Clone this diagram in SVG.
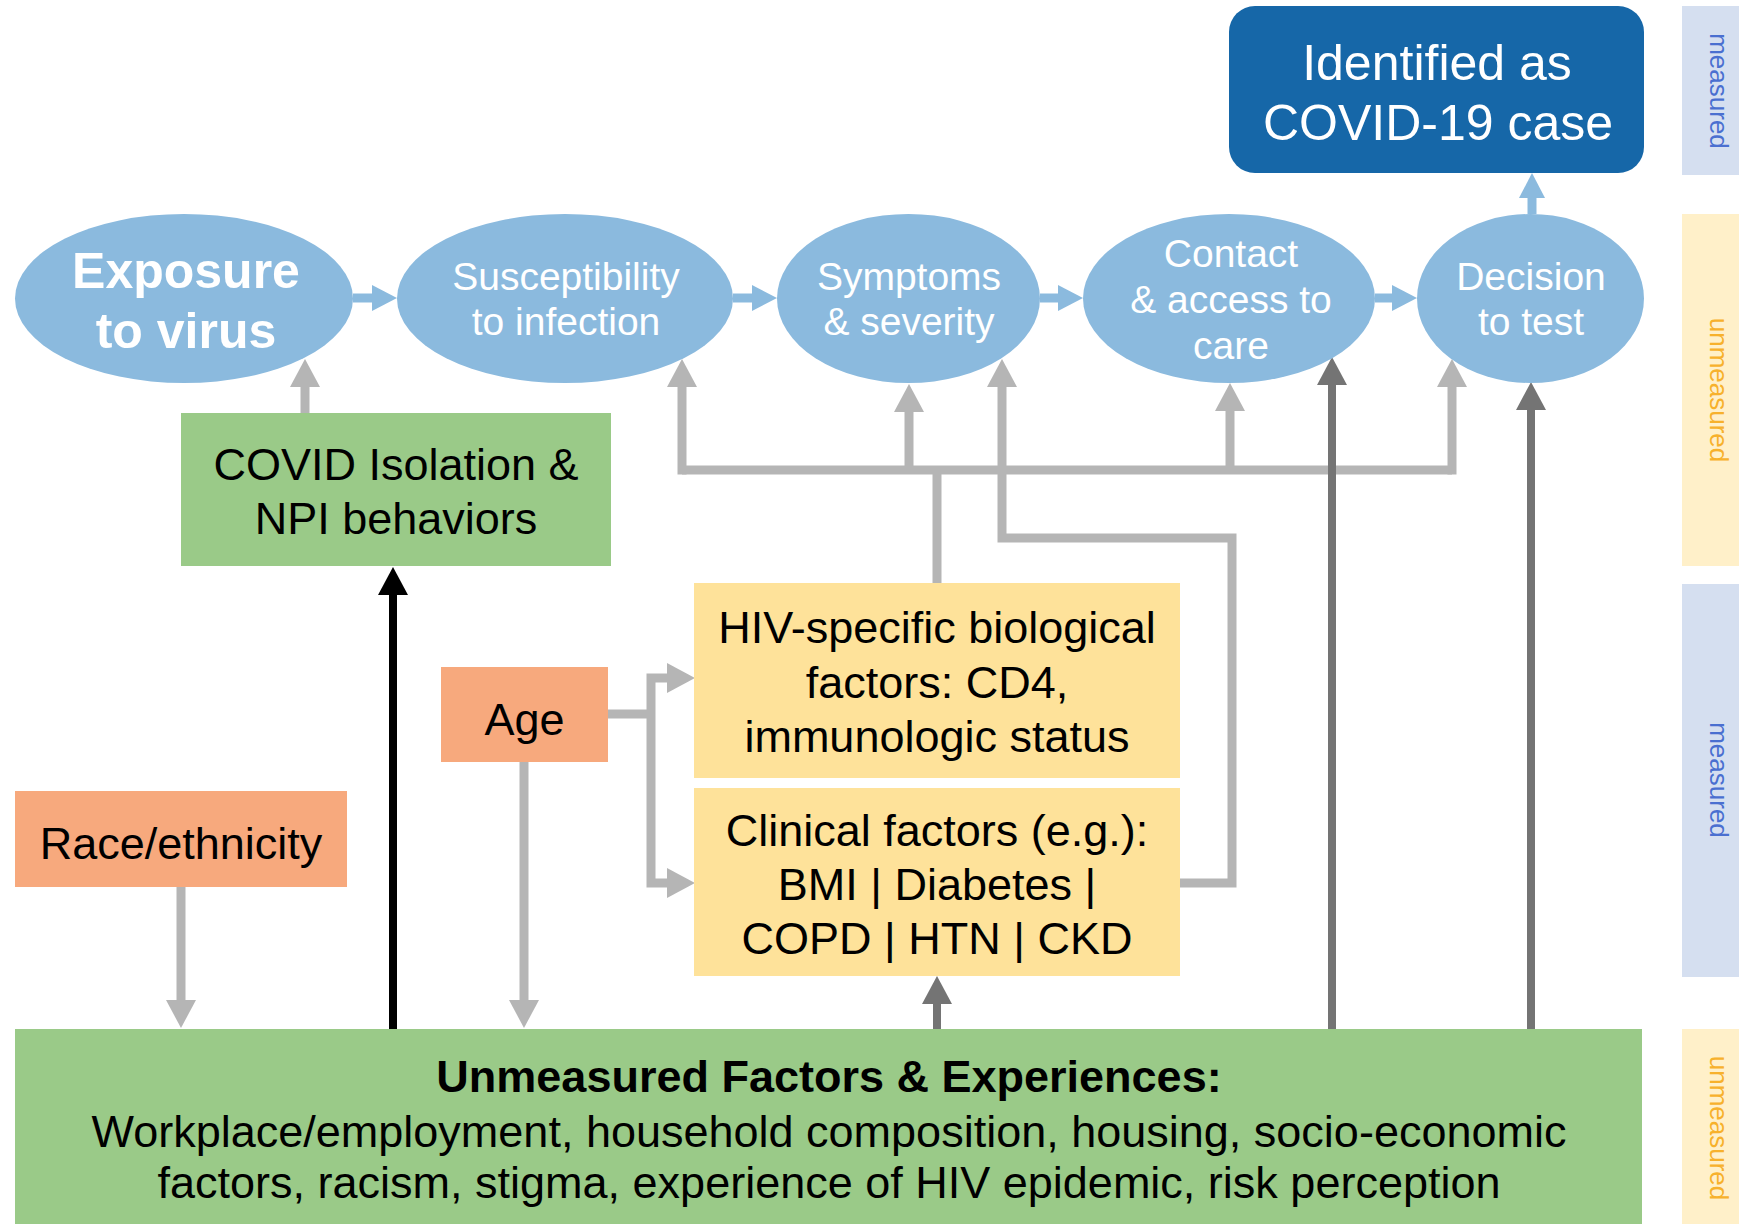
<svg xmlns="http://www.w3.org/2000/svg" width="1739" height="1224" viewBox="0 0 1739 1224">
  <style>
    text { font-family: "Liberation Sans", Arial, sans-serif; text-anchor: middle; }
    .dark { fill: #000; font-size: 45px; }
    .bold { font-weight: bold; }
    .stage { fill: #8bbade; }
    .stage-txt { fill: #fff; font-size: 39px; }
    .stage-big { fill: #fff; font-size: 50px; font-weight: bold; }
    .green { fill: #9aca88; }
    .salmon { fill: #f7a97d; }
    .yellow { fill: #fee29a; }
    .side-m { fill: #d5dff0; }
    .side-u { fill: #fff0c9; }
    .side-m-txt { fill: #4a6fd0; font-size: 26px; }
    .side-u-txt { fill: #f7b12c; font-size: 26px; }
    .c-blue { stroke: #8bbade; stroke-width: 9; fill: none; }
    .c-gray { stroke: #b5b5b5; stroke-width: 9; fill: none; }
    .c-dark { stroke: #747474; stroke-width: 8; fill: none; }
    .c-black { stroke: #000; stroke-width: 8; fill: none; }
  </style>
  <defs>
    <marker id="ah-blue" markerUnits="userSpaceOnUse" markerWidth="26" markerHeight="26" refX="0" refY="13" orient="auto">
      <path d="M0,0 L25,13 L0,26 z" fill="#8bbade"/>
    </marker>
    <marker id="ah-gray" markerUnits="userSpaceOnUse" markerWidth="28" markerHeight="30" refX="0" refY="15" orient="auto">
      <path d="M0,0 L28,15 L0,30 z" fill="#b5b5b5"/>
    </marker>
    <marker id="ah-dark" markerUnits="userSpaceOnUse" markerWidth="28" markerHeight="30" refX="0" refY="15" orient="auto">
      <path d="M0,0 L28,15 L0,30 z" fill="#747474"/>
    </marker>
    <marker id="ah-black" markerUnits="userSpaceOnUse" markerWidth="28" markerHeight="30" refX="0" refY="15" orient="auto">
      <path d="M0,0 L28,15 L0,30 z" fill="#000"/>
    </marker>
  </defs>

  <rect width="1739" height="1224" fill="#fff"/>

  <!-- side legend bars -->
  <g id="legend">
    <rect class="side-m" x="1682" y="6" width="57" height="169"/>
    <text class="side-m-txt" transform="translate(1710,91) rotate(90)">measured</text>
    <rect class="side-u" x="1682" y="214" width="57" height="352"/>
    <text class="side-u-txt" transform="translate(1710,390) rotate(90)">unmeasured</text>
    <rect class="side-m" x="1682" y="584" width="57" height="393"/>
    <text class="side-m-txt" transform="translate(1710,780) rotate(90)">measured</text>
    <rect class="side-u" x="1682" y="1029" width="57" height="195"/>
    <text class="side-u-txt" transform="translate(1710,1128) rotate(90)">unmeasured</text>
  </g>

  <!-- connectors -->
  <g id="connectors">
    <!-- pathway between stages -->
    <path class="c-blue" d="M353,298 H372" marker-end="url(#ah-blue)"/>
    <path class="c-blue" d="M733,298 H752" marker-end="url(#ah-blue)"/>
    <path class="c-blue" d="M1040,298 H1058" marker-end="url(#ah-blue)"/>
    <path class="c-blue" d="M1375,298 H1392" marker-end="url(#ah-blue)"/>
    <path class="c-blue" d="M1532,214 V198" marker-end="url(#ah-blue)"/>

    <!-- isolation behaviours to exposure -->
    <path class="c-gray" d="M305,413 V387" marker-end="url(#ah-gray)"/>

    <!-- age -->
    <path class="c-gray" d="M608,714 H651"/>
    <path class="c-gray" d="M651,714 V678 H667" marker-end="url(#ah-gray)"/>
    <path class="c-gray" d="M651,714 V883 H667" marker-end="url(#ah-gray)"/>
    <path class="c-gray" d="M524,762 V1000" marker-end="url(#ah-gray)"/>

    <!-- race/ethnicity -->
    <path class="c-gray" d="M181,887 V1000" marker-end="url(#ah-gray)"/>

    <!-- HIV-specific factors fan-out -->
    <path class="c-gray" d="M937,583 V470"/>
    <path class="c-gray" d="M682,470 H1452"/>
    <path class="c-gray" d="M682,474.5 V387" marker-end="url(#ah-gray)"/>
    <path class="c-gray" d="M909,470 V412" marker-end="url(#ah-gray)"/>
    <path class="c-gray" d="M1230,470 V411" marker-end="url(#ah-gray)"/>
    <path class="c-gray" d="M1452,474.5 V387" marker-end="url(#ah-gray)"/>

    <!-- clinical factors to symptoms -->
    <path class="c-gray" d="M1180,883 H1232 V538 H1002 V387" marker-end="url(#ah-gray)"/>

    <!-- unmeasured factors -->
    <path class="c-black" d="M393,1029 V595" marker-end="url(#ah-black)"/>
    <path class="c-dark" d="M937,1029 V1004" marker-end="url(#ah-dark)"/>
    <path class="c-dark" d="M1332,1029 V385" marker-end="url(#ah-dark)"/>
    <path class="c-dark" d="M1531,1029 V410" marker-end="url(#ah-dark)"/>
  </g>

  <!-- stages -->
  <g id="exposure">
    <ellipse class="stage" cx="184" cy="298.5" rx="169" ry="84.5"/>
    <text class="stage-big" x="186" y="288">Exposure</text>
    <text class="stage-big" x="186" y="348">to virus</text>
  </g>
  <g id="susceptibility">
    <ellipse class="stage" cx="565" cy="298.5" rx="168" ry="84.5"/>
    <text class="stage-txt" x="566" y="290">Susceptibility</text>
    <text class="stage-txt" x="566" y="335">to infection</text>
  </g>
  <g id="symptoms">
    <ellipse class="stage" cx="908.5" cy="298.5" rx="131.5" ry="84.5"/>
    <text class="stage-txt" x="909" y="290">Symptoms</text>
    <text class="stage-txt" x="909" y="335">&amp; severity</text>
  </g>
  <g id="contact">
    <ellipse class="stage" cx="1229" cy="298.5" rx="146" ry="84.5"/>
    <text class="stage-txt" x="1231" y="267">Contact</text>
    <text class="stage-txt" x="1231" y="313">&amp; access to</text>
    <text class="stage-txt" x="1231" y="359">care</text>
  </g>
  <g id="decision">
    <ellipse class="stage" cx="1530.5" cy="298.5" rx="113.5" ry="84.5"/>
    <text class="stage-txt" x="1531" y="290">Decision</text>
    <text class="stage-txt" x="1531" y="335">to test</text>
  </g>
  <g id="identified">
    <rect x="1229" y="6" width="415" height="167" rx="26" fill="#1667a8"/>
    <text x="1437" y="80" fill="#fff" font-size="50">Identified as</text>
    <text x="1438" y="140" fill="#fff" font-size="50">COVID-19 case</text>
  </g>

  <!-- factor boxes -->
  <g id="isolation">
    <rect class="green" x="181" y="413" width="430" height="153"/>
    <text class="dark" x="396" y="480">COVID Isolation &amp;</text>
    <text class="dark" x="396" y="534">NPI behaviors</text>
  </g>
  <g id="age">
    <rect class="salmon" x="441" y="667" width="167" height="95"/>
    <text class="dark" x="524.5" y="735">Age</text>
  </g>
  <g id="race">
    <rect class="salmon" x="15" y="791" width="332" height="96"/>
    <text class="dark" x="181" y="859">Race/ethnicity</text>
  </g>
  <g id="hiv-factors">
    <rect class="yellow" x="694" y="583" width="486" height="195"/>
    <text class="dark" x="937" y="643">HIV-specific biological</text>
    <text class="dark" x="937" y="698">factors: CD4,</text>
    <text class="dark" x="937" y="752">immunologic status</text>
  </g>
  <g id="clinical-factors">
    <rect class="yellow" x="694" y="788" width="486" height="188"/>
    <text class="dark" x="937" y="846">Clinical factors (e.g.):</text>
    <text class="dark" x="937" y="900">BMI | Diabetes |</text>
    <text class="dark" x="937" y="954">COPD | HTN | CKD</text>
  </g>
  <g id="unmeasured">
    <rect class="green" x="15" y="1029" width="1627" height="195"/>
    <text class="dark bold" x="829" y="1092">Unmeasured Factors &amp; Experiences:</text>
    <text class="dark" x="829" y="1147">Workplace/employment, household composition, housing, socio-economic</text>
    <text class="dark" x="829" y="1198">factors, racism, stigma, experience of HIV epidemic, risk perception</text>
  </g>
</svg>
